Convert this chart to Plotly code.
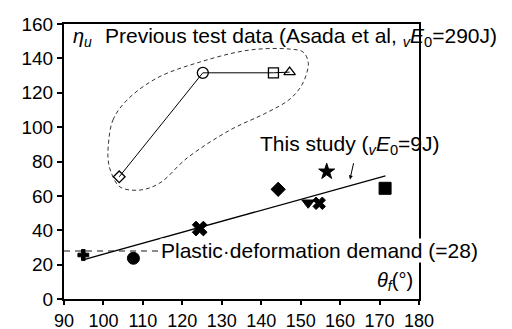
import plotly.graph_objects as go

# Previous test data (Asada et al.)
prev_x = [104.0, 125.2, 143.1, 147.2]
prev_y = [71.1, 131.6, 131.6, 132.0]
prev_symbols = ["diamond-open", "circle-open", "square-open", "triangle-up-open"]
prev_sizes = [9, 11, 10, 10]

# This study
study_x = [94.9, 107.6, 124.4, 144.3, 156.6, 151.9, 154.7, 171.4]
study_y = [25.6, 23.7, 41.0, 63.8, 74.1, 56.0, 55.7, 64.4]
study_symbols = ["cross", "circle", "x", "diamond", "star", "triangle-down", "x", "square"]
study_sizes = [9, 12, 13, 11, 12, 11, 11, 12]

# Trend line of this study
trend_x = [95.3, 171.5]
trend_y = [23.1, 71.7]

# Plastic deformation demand
demand_value = 28

# Dashed enclosure around previous data
enc_x = [101.2, 102.4, 106.0, 113.6, 124.5, 137.2, 147.3, 150.6, 151.9, 151.4, 149.8, 147.0,
         141.2, 132.1, 121.2, 114.3, 109.3, 104.2, 101.9, 101.2, 101.2]
enc_y = [88.4, 104.1, 115.8, 128.6, 137.9, 144.9, 145.4, 143.7, 137.9, 130.3, 122.7, 115.8,
         108.2, 98.3, 82.0, 67.5, 63.4, 65.2, 73.9, 80.9, 88.4]

x_ticks = list(range(90, 181, 10))
y_ticks = list(range(0, 161, 20))

FONT = "Liberation Sans, Arial, Helvetica, sans-serif"
FS = 21
TFS = 18

fig = go.Figure()

# demand line
fig.add_trace(go.Scatter(x=[90, 180], y=[demand_value, demand_value], mode="lines",
                         line=dict(color="#666666", width=1.5, dash="6px,5px"),
                         hoverinfo="skip", showlegend=False))

# enclosure
fig.add_trace(go.Scatter(x=enc_x, y=enc_y, mode="lines",
                         line=dict(color="#333333", width=1, dash="4px,3px", shape="spline", smoothing=1.0),
                         hoverinfo="skip", showlegend=False))

# previous data
fig.add_trace(go.Scatter(x=prev_x, y=prev_y, mode="lines+markers",
                         line=dict(color="black", width=1),
                         marker=dict(symbol=prev_symbols, size=prev_sizes, color="black", opacity=1,
                                     line=dict(color="black", width=1.3)),
                         showlegend=False))

# trend
fig.add_trace(go.Scatter(x=trend_x, y=trend_y, mode="lines",
                         line=dict(color="black", width=1.3), showlegend=False))

# study data
fig.add_trace(go.Scatter(x=study_x, y=study_y, mode="markers",
                         marker=dict(symbol=study_symbols, size=study_sizes, color="black", opacity=1,
                                     line=dict(color="black", width=1)),
                         showlegend=False))

annotations = [
    dict(x=91.8, y=152.0, text="<i>η</i><sub><i>u</i></sub>", showarrow=False,
         xanchor="left", yanchor="middle", font=dict(size=FS - 1)),
    dict(x=99.8, y=152.4, text="Previous test data (Asada et al, <sub><i>v</i></sub><i>E</i><sub>0</sub>=290J)",
         showarrow=False, xanchor="left", yanchor="middle", font=dict(size=FS)),
    dict(x=139.2, y=89.6, text="This study (<sub><i>v</i></sub><i>E</i><sub>0</sub>=9J)",
         showarrow=False, xanchor="left", yanchor="middle", font=dict(size=FS)),
    dict(x=114.3, y=28.5, text="Plastic·deformation demand (=28)", showarrow=False,
         xanchor="left", yanchor="middle", bgcolor="white", borderpad=0, font=dict(size=FS)),
    dict(x=179.0, y=10.0, text="<i>θ</i><sub><i>f</i></sub>(°)", showarrow=False,
         xanchor="right", yanchor="middle", font=dict(size=FS - 1)),
    dict(x=162.5, y=69.6, ax=163.5, ay=79.9, axref="x", ayref="y", text="", showarrow=True,
         arrowhead=2, arrowsize=0.8, arrowwidth=1, arrowcolor="black"),
]

fig.update_layout(
    width=512, height=329,
    margin=dict(l=64, r=93, t=24, b=30, autoexpand=False),
    paper_bgcolor="white", plot_bgcolor="white",
    font=dict(family=FONT, size=FS, color="black"),
    annotations=annotations,
    showlegend=False,
)
fig.update_xaxes(range=[90, 180], tickvals=x_ticks, showgrid=False, zeroline=False,
                 showline=True, linecolor="black", linewidth=2, mirror=True,
                 ticks="outside", ticklen=4, tickwidth=1.5, tickcolor="black",
                 tickfont=dict(size=TFS), automargin=False)
fig.update_yaxes(range=[0, 160], tickvals=y_ticks, showgrid=False, zeroline=False,
                 showline=True, linecolor="black", linewidth=2, mirror=True,
                 ticks="outside", ticklen=5, tickwidth=1.5, tickcolor="black",
                 tickfont=dict(size=TFS + 1), automargin=False)

fig.write_html("out.html", config={"displayModeBar": False},
               post_script="document.body.style.margin='0';")
